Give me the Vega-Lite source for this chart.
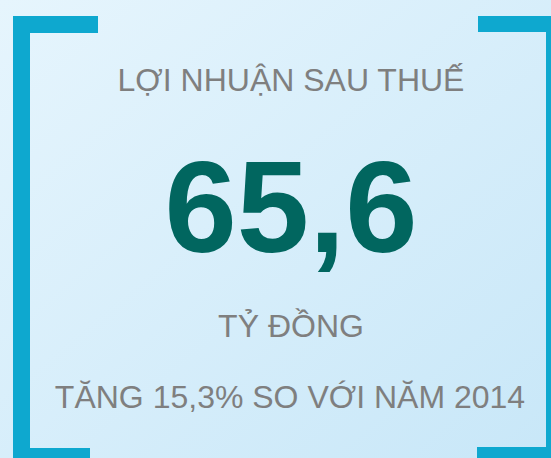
{
  "$schema": "https://vega.github.io/schema/vega-lite/v6.json",
  "width": 551,
  "height": 458,
  "autosize": {"type": "fit", "contains": "padding"},
  "padding": 0,
  "background": "#d8eefa",
  "config": {
    "view": {"stroke": null, "fill": {"gradient": "linear", "x1": 0, "y1": 0, "x2": 1, "y2": 1, "stops": [{"offset": 0, "color": "#e6f5fd"}, {"offset": 1, "color": "#c8e7f8"}]}},
    "axis": {"disable": true}
  },
  "datasets": {
    "bars": [
      {"part": "left top", "x": 13, "x2": 98, "y": 16, "y2": 33},
      {"part": "left side", "x": 13, "x2": 30, "y": 16, "y2": 458},
      {"part": "left bottom", "x": 13, "x2": 90, "y": 448, "y2": 458},
      {"part": "right top", "x": 478, "x2": 551, "y": 16, "y2": 32},
      {"part": "right side", "x": 546, "x2": 551, "y": 16, "y2": 458},
      {"part": "right bottom", "x": 477, "x2": 551, "y": 447, "y2": 458}
    ],
    "texts": [
      {"kind": "label", "text": "LỢI NHUẬN SAU THUẾ", "x": 291, "y": 91},
      {"kind": "value", "text": "65,6", "x": 291, "y": 252},
      {"kind": "label", "text": "TỶ ĐỒNG", "x": 291, "y": 337},
      {"kind": "label", "text": "TĂNG 15,3% SO VỚI NĂM 2014", "x": 290, "y": 408}
    ]
  },
  "layer": [
    {
      "data": {"name": "bars"},
      "mark": {"type": "rect", "color": "#0ea8cf"},
      "encoding": {
        "x": {"field": "x", "type": "quantitative", "scale": {"domain": [0, 551], "nice": false, "zero": false}},
        "x2": {"field": "x2"},
        "y": {"field": "y", "type": "quantitative", "scale": {"domain": [0, 458], "nice": false, "zero": false, "reverse": true}},
        "y2": {"field": "y2"}
      }
    },
    {
      "data": {"name": "texts"},
      "transform": [{"filter": "datum.kind === 'label'"}],
      "mark": {"type": "text", "font": "Liberation Sans", "fontSize": 32, "color": "#7f7f7f", "align": "center", "baseline": "alphabetic"},
      "encoding": {
        "x": {"field": "x", "type": "quantitative"},
        "y": {"field": "y", "type": "quantitative"},
        "text": {"field": "text"}
      }
    },
    {
      "data": {"name": "texts"},
      "transform": [{"filter": "datum.kind === 'value'"}],
      "mark": {"type": "text", "font": "Liberation Sans", "fontWeight": "bold", "fontSize": 130, "color": "#01665f", "align": "center", "baseline": "alphabetic"},
      "encoding": {
        "x": {"field": "x", "type": "quantitative"},
        "y": {"field": "y", "type": "quantitative"},
        "text": {"field": "text"}
      }
    }
  ]
}
